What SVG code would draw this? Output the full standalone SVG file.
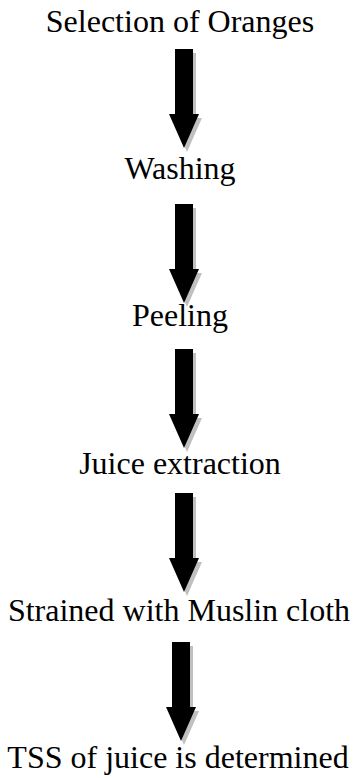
<svg xmlns="http://www.w3.org/2000/svg" width="357" height="778" viewBox="0 0 357 778">
<defs>
<style>
.t{font-family:"Liberation Serif","Times New Roman",serif;font-size:32px;fill:#000;text-anchor:middle}
.sh{fill:#c0c0c0}
.ar{fill:#000}
</style>
<path id="arw" d="M-9,0 H9 V65 H15 L0,99 L-15,65 H-9 Z"/>
</defs>
<g id="connectors">
<g transform="translate(184,49)"><use href="#arw" class="sh" x="3" y="4"/><use href="#arw" class="ar"/></g>
<g transform="translate(184,204)"><use href="#arw" class="sh" x="3" y="4"/><use href="#arw" class="ar"/></g>
<g transform="translate(184,349)"><use href="#arw" class="sh" x="3" y="4"/><use href="#arw" class="ar"/></g>
<g transform="translate(184,493)"><use href="#arw" class="sh" x="3" y="4"/><use href="#arw" class="ar"/></g>
<g transform="translate(181,642)"><use href="#arw" class="sh" x="3" y="4"/><use href="#arw" class="ar"/></g>
</g>
<g id="n1"><text class="t" x="180" y="32">Selection of Oranges</text></g>
<g id="n2"><text class="t" x="180" y="179">Washing</text></g>
<g id="n3"><text class="t" x="180" y="326">Peeling</text></g>
<g id="n4"><text class="t" x="180" y="474">Juice extraction</text></g>
<g id="n5"><text class="t" x="179" y="621">Strained with Muslin cloth</text></g>
<g id="n6"><text class="t" x="178" y="768">TSS of juice is determined</text></g>
</svg>
